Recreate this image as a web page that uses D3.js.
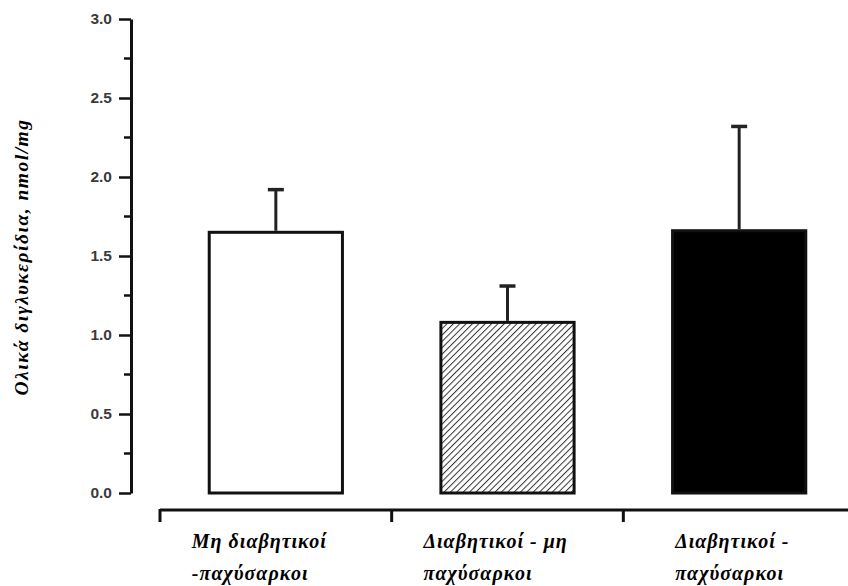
<!DOCTYPE html>
<html>
<head>
<meta charset="utf-8">
<script src="https://cdn.jsdelivr.net/npm/d3@7"></script>
<style>
  body { margin: 0; background: #fff; }
  .tick text { font-family: Arial, "Liberation Sans", sans-serif; font-weight: bold; }
  .lbl { font-family: "Liberation Serif", "DejaVu Serif", serif; font-weight: bold; font-style: italic; }
</style>
</head>
<body>
<svg id="chart" width="848" height="586"></svg>
<script>
// data
var groups = ["g1", "g2", "g3"];
var labels = [["Μη διαβητικοί", "-παχύσαρκοι"], ["Διαβητικοί - μη", "παχύσαρκοι"], ["Διαβητικοί -", "παχύσαρκοι"]];
var means = [1.65, 1.08, 1.66];
var errs = [0.27, 0.23, 0.66];
var yTicks = [0, 0.5, 1.0, 1.5, 2.0, 2.5, 3.0];
var yMinor = [0.25, 0.75, 1.25, 1.75, 2.25, 2.75];
var yTitle = "Ολικά διγλυκερίδια, nmol/mg";

var svg = d3.select("#chart");

// hatch for the middle bar
var defs = svg.append("defs");
var pat = defs.append("pattern")
    .attr("id", "hatch")
    .attr("patternUnits", "userSpaceOnUse")
    .attr("width", 4.5)
    .attr("height", 4.5)
    .attr("patternTransform", "rotate(45)");
pat.append("rect").attr("width", 4.5).attr("height", 4.5).attr("fill", "#fff");
pat.append("line")
    .attr("x1", 0).attr("y1", 0).attr("x2", 0).attr("y2", 4.5)
    .attr("stroke", "#333").attr("stroke-width", 2);

var fills = ["#fff", "url(#hatch)", "#000"];

var y = d3.scaleLinear().domain([0, 3]).range([493, 19]);
var x = d3.scaleBand().domain(groups).range([160, 855]).padding(0);
var barW = x.bandwidth() * 0.575;

// y axis
var yAxis = svg.append("g").attr("transform", "translate(131,0)")
    .call(d3.axisLeft(y).tickValues(yTicks).tickFormat(d3.format(".1f")).tickSize(12).tickSizeOuter(0));
yAxis.select(".domain").attr("stroke", "#111").attr("stroke-width", 3);
yAxis.selectAll(".tick line").attr("stroke", "#111").attr("stroke-width", 2.5);
yAxis.selectAll(".tick text").attr("x", -19).style("font-size", "15.5px").attr("fill", "#3a3a3a");
// minor ticks
yAxis.selectAll(".minor").data(yMinor).enter().append("line")
    .attr("class", "minor")
    .attr("x1", -7).attr("x2", 0)
    .attr("y1", function(d) { return y(d); }).attr("y2", function(d) { return y(d); })
    .attr("stroke", "#111").attr("stroke-width", 2.5);

// y title
svg.append("text")
    .attr("class", "lbl")
    .attr("transform", "translate(28,257) rotate(-90)")
    .attr("text-anchor", "middle")
    .style("font-size", "19.5px")
    .style("letter-spacing", "1.5px")
    .text(yTitle);

// x axis (category separators)
var xAxis = svg.append("g");
xAxis.append("line")
    .attr("x1", 160).attr("x2", 848).attr("y1", 510).attr("y2", 510)
    .attr("stroke", "#111").attr("stroke-width", 3);
xAxis.selectAll(".sep").data(groups).enter().append("line")
    .attr("class", "sep")
    .attr("x1", function(d) { return x(d); }).attr("x2", function(d) { return x(d); })
    .attr("y1", 509).attr("y2", 522)
    .attr("stroke", "#111").attr("stroke-width", 3);

// bars
var bar = svg.selectAll(".bar").data(means).enter().append("g").attr("class", "bar");
bar.append("rect")
    .attr("x", function(d, i) { return x(groups[i]) + x.bandwidth() / 2 - barW / 2; })
    .attr("y", function(d) { return y(d); })
    .attr("width", barW)
    .attr("height", function(d) { return y(0) - y(d); })
    .attr("fill", function(d, i) { return fills[i]; })
    .attr("stroke", "#111")
    .attr("stroke-width", 3);

// error bars
bar.append("line")
    .attr("x1", function(d, i) { return x(groups[i]) + x.bandwidth() / 2; })
    .attr("x2", function(d, i) { return x(groups[i]) + x.bandwidth() / 2; })
    .attr("y1", function(d) { return y(d) - 1.5; })
    .attr("y2", function(d, i) { return y(d + errs[i]); })
    .attr("stroke", "#222").attr("stroke-width", 3);
bar.append("line")
    .attr("x1", function(d, i) { return x(groups[i]) + x.bandwidth() / 2 - 8; })
    .attr("x2", function(d, i) { return x(groups[i]) + x.bandwidth() / 2 + 8; })
    .attr("y1", function(d, i) { return y(d + errs[i]); })
    .attr("y2", function(d, i) { return y(d + errs[i]); })
    .attr("stroke", "#222").attr("stroke-width", 3.5);

// category labels
var lab = svg.selectAll(".cat").data(labels).enter().append("text")
    .attr("class", "lbl cat")
    .attr("text-anchor", "start")
    .style("font-size", "20px")
    .style("letter-spacing", "1px")
    .attr("fill", "#000");
lab.append("tspan")
    .attr("x", function(d, i) { return x(groups[i]) + x.bandwidth() / 2 - 84 + (i == 2 ? 20 : 0); })
    .attr("y", 548)
    .text(function(d) { return d[0]; });
lab.append("tspan")
    .attr("x", function(d, i) { return x(groups[i]) + x.bandwidth() / 2 - 84 + (i == 2 ? 20 : 0); })
    .attr("y", 580)
    .text(function(d) { return d[1]; });
</script>
</body>
</html>
